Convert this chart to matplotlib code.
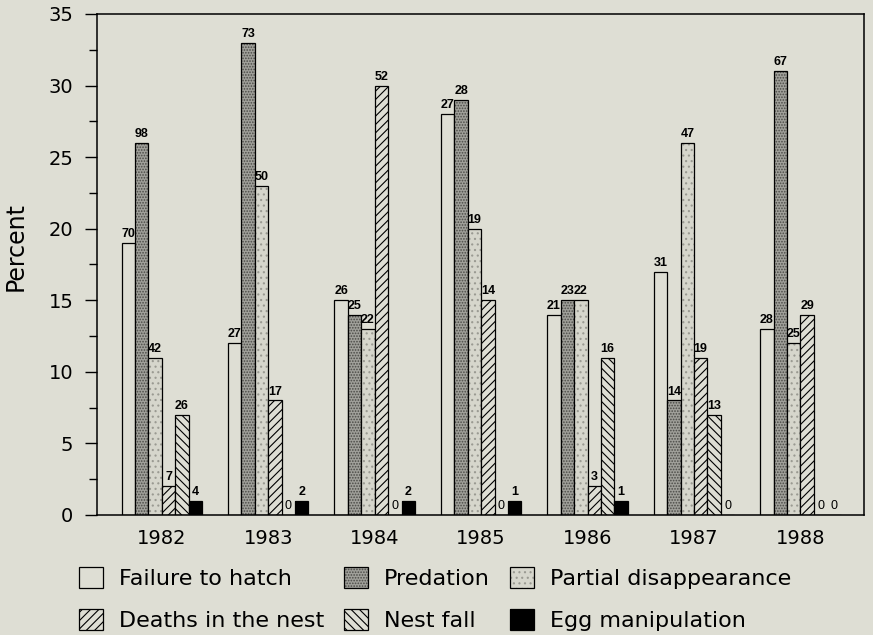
import matplotlib
matplotlib.use("Agg")
import matplotlib.pyplot as plt
import numpy as np
from matplotlib.patches import Patch
from matplotlib.ticker import MultipleLocator

years = ['1982', '1983', '1984', '1985', '1986', '1987', '1988']
labels = ['Failure to hatch', 'Predation', 'Partial disappearance',
          'Deaths in the nest', 'Nest fall', 'Egg manipulation']

# percent (bar height) for each cause, per year
failure = [19, 12, 15, 28, 14, 17, 13]
predation = [26, 33, 14, 29, 15, 8, 31]
partial = [11, 23, 13, 20, 15, 26, 12]
deaths = [2, 8, 30, 15, 2, 11, 14]
nestfall = [7, 0, 0, 0, 11, 7, 0]
egg = [1, 1, 1, 1, 1, 0, 0]

# number of nests (label on top of bar)
failure_n = [70, 27, 26, 27, 21, 31, 28]
predation_n = [98, 73, 25, 28, 23, 14, 67]
partial_n = [42, 50, 22, 19, 22, 47, 25]
deaths_n = [7, 17, 52, 14, 3, 19, 29]
nestfall_n = [26, 0, 0, 0, 16, 13, 0]
egg_n = [4, 2, 2, 1, 1, 0, 0]

heights = [failure, predation, partial, deaths, nestfall, egg]
counts = [failure_n, predation_n, partial_n, deaths_n, nestfall_n, egg_n]

plt.rcParams['hatch.linewidth'] = 0.8

bg = '#deded4'
faces = [bg, '#a0a09a', '#d6d6cc', bg, bg, 'black']
hatches = [None, '......', '...', '////', '\\\\\\\\', None]
hatch_col = ['black', '#4a4a46', '#9a9a92', 'black', 'black', 'black']

fig = plt.figure(figsize=(8.73, 6.35), dpi=100, facecolor=bg)
ax = fig.add_axes([0.111, 0.189, 0.879, 0.789])
ax.set_facecolor(bg)

x = np.arange(len(years))
w = 0.126
for i in range(6):
    pos = x + (i - 2.5) * w
    # fill + hatch layer, then black outline on top
    ax.bar(pos, heights[i], w, color=faces[i], edgecolor=hatch_col[i],
           linewidth=0, hatch=hatches[i])
    bars = ax.bar(pos, heights[i], w, fill=False, edgecolor='black',
                  linewidth=0.9)
    for b, n in zip(bars, counts[i]):
        ax.text(b.get_x() + b.get_width() / 2, b.get_height() + 0.2, str(n),
                ha='center', va='bottom', fontsize=9,
                family='Liberation Sans',
                fontweight='bold' if n > 0 else 'normal')

ax.set_xlim(-0.61, 6.6)
ax.set_ylim(0, 35)
ax.set_xticks(x)
ax.set_xticklabels(years, fontsize=14)
ax.tick_params(axis='x', length=0, pad=10)
ax.yaxis.set_major_locator(MultipleLocator(5))
ax.yaxis.set_minor_locator(MultipleLocator(2.5))
ax.tick_params(axis='y', which='major', length=9, width=1, labelsize=14, pad=8)
ax.tick_params(axis='y', which='minor', length=6, width=1)
for s in ax.spines.values():
    s.set_linewidth(1.1)

ax.set_ylabel('Percent', fontsize=17)
ax.yaxis.set_label_coords(-0.09, 0.535)

handles = []
for i in range(6):
    fillp = Patch(facecolor=faces[i], edgecolor=hatch_col[i],
                  hatch=hatches[i], linewidth=0)
    edge = Patch(fill=False, edgecolor='black', linewidth=0.9)
    handles.append((fillp, edge))
order = [0, 3, 1, 4, 2, 5]
fig.legend([handles[k] for k in order], [labels[k] for k in order],
           ncol=3, loc='upper left', bbox_to_anchor=(0.09, 0.107),
           frameon=False, fontsize=16, handlelength=1.1, handleheight=1.05,
           handletextpad=0.7, columnspacing=0.9, labelspacing=0.9,
           borderpad=0, borderaxespad=0)

fig.savefig('out.png', dpi=100, facecolor=bg)
